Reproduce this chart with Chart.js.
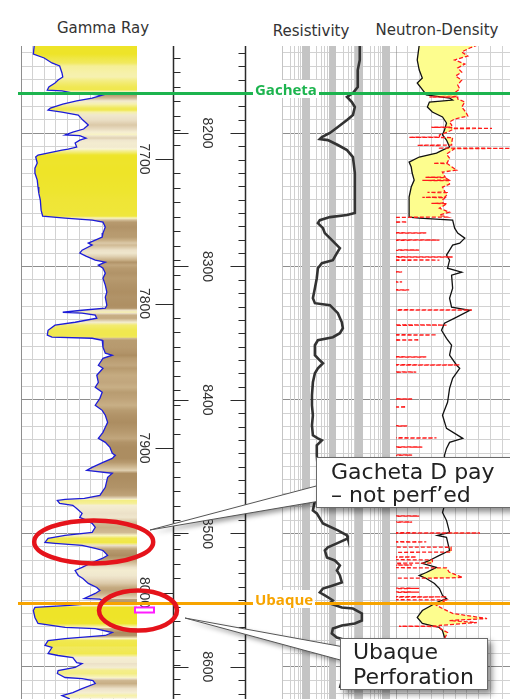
<!DOCTYPE html>
<html>
<head>
<meta charset="utf-8">
<script src="https://cdn.jsdelivr.net/npm/chart.js@4.4.1/dist/chart.umd.min.js"></script>
<style>
  html, body { margin: 0; padding: 0; background: #fff; overflow: hidden; }
  body { width: 510px; height: 699px; position: relative; font-family: "DejaVu Sans", sans-serif; }
  canvas.track { position: absolute; top: 46px; }
  .title { position: absolute; font-size: 15px; line-height: 18px; color: #333; white-space: nowrap; transform: translateX(-50%); }
  #overlay { position: absolute; left: 0; top: 0; z-index: 5; }
  .top-label { position: absolute; z-index: 6; background: #fff; font: bold 15px "Open Sans", sans-serif; line-height: 18px; padding: 0 2px; white-space: nowrap; }
  .callout { position: absolute; z-index: 7; background: #fff; border: 1px solid #6a6a6a; box-shadow: 4px 4px 6px rgba(0,0,0,0.45);
             font-size: 22px; color: #222; white-space: nowrap; box-sizing: border-box; }
</style>
</head>
<body>
<div class="title" style="left:103px;top:19px">Gamma Ray</div>
<div class="title" style="left:311px;top:22px">Resistivity</div>
<div class="title" style="left:437px;top:21px">Neutron-Density</div>

<canvas id="grChart" class="track" width="116" height="653" style="left:21px"></canvas>
<canvas id="depthChart" class="track" width="145" height="653" style="left:137px"></canvas>
<canvas id="resChart" class="track" width="115" height="653" style="left:282px"></canvas>
<canvas id="ndChart" class="track" width="118" height="653" style="left:396px"></canvas>
<canvas id="overlay" width="510" height="699"></canvas>

<div class="callout" style="left:316px;top:457px;width:210px;height:51px;padding:2px 0 0 14px;line-height:23px">Gacheta D pay<br>&#8211; not perf&#8217;ed</div>
<div class="callout" style="left:340px;top:638px;width:148px;height:52px;padding:0 0 0 12px;line-height:25px">Ubaque<br>Perforation</div>

<script>
// depth window of the picture (ft), and the second (left) depth ruler
const DEPTH_TOP = 8134.8, DEPTH_BOT = 8624.1;
const MD_TOP = 7621.8, MD_BOT = 8073.7;

const depthLabels = [8200, 8300, 8400, 8500, 8600];
const mdLabels = [7700, 7800, 7900, 8000];

const tops = ['Gacheta', 'Ubaque'];
const topDepth = [8170, 8552];
const topColor = ['#1cb44e', '#f7a400'];

// Gamma ray (API)
const grDepth = [8134.8, 8140.8, 8143.8, 8147.5, 8149.8, 8155, 8158, 8160.3, 8162.5, 8165.5,
  8167.8, 8168.5, 8170, 8171.5, 8173.8, 8176, 8178.3, 8181.3, 8182.8, 8184.3,
  8186.5, 8190.3, 8194, 8197, 8199.3, 8201.5, 8202, 8203.8, 8205.3, 8207.5,
  8210.5, 8212, 8212.8, 8216.5, 8218, 8222.5, 8226.3, 8230, 8235.3, 8240.5,
  8245, 8250.3, 8257.8, 8262.3, 8263.8, 8265.3, 8266.8, 8270.5, 8275, 8278,
  8280.3, 8282.5, 8284, 8287.8, 8290, 8292.3, 8295.3, 8296.8, 8299, 8301.3,
  8305, 8308.8, 8314, 8319.3, 8323, 8329, 8331.3, 8332.8, 8334.3, 8335,
  8336.5, 8338.8, 8341.8, 8344, 8347.8, 8351.5, 8353, 8353.8, 8355.3, 8360.5,
  8365, 8366.5, 8368.8, 8374, 8376.3, 8381.5, 8386.8, 8390.5, 8394.3, 8398.8,
  8404, 8407.8, 8411.5, 8416.8, 8420.5, 8424.3, 8428.8, 8431.8, 8435.5, 8440,
  8441.5, 8443.8, 8446.8, 8450.5, 8452.8, 8455, 8458, 8465.5, 8471.5, 8473.8,
  8474.5, 8475.3, 8477.5, 8479, 8481.3, 8485, 8488, 8490.3, 8492.5, 8495.5,
  8499.3, 8501.5, 8503.8, 8506.8, 8507.5, 8509, 8511.3, 8512.8, 8516.5, 8518.8,
  8521.8, 8525.5, 8527.8, 8531.5, 8533.8, 8537.5, 8540.5, 8542.8, 8545, 8548.8,
  8549.3, 8551.8, 8554, 8555.5, 8557.8, 8563, 8567.5, 8570.5, 8571.3, 8574.3,
  8576.5, 8578.8, 8580.3, 8584, 8585.5, 8590, 8591.5, 8593, 8596.8, 8597.5,
  8600.5, 8602.8, 8605, 8608, 8608.8, 8610.3, 8612.5, 8616.3, 8619.3, 8621.5, 8624];
const grValue = [17, 16, 30, 40, 50, 53, 54, 48, 44, 36,
  34, 53, 66, 106, 92, 72, 54, 38, 35, 53,
  74, 80, 87, 81, 67, 57, 76, 84, 76, 70,
  72, 61, 53, 22, 19, 21, 18, 18, 21, 22,
  23, 25, 26, 28, 57, 92, 106, 109, 106, 105,
  96, 87, 92, 79, 76, 84, 96, 109, 100, 106,
  109, 106, 109, 111, 109, 111, 109, 79, 54, 79,
  96, 98, 70, 44, 35, 34, 40, 92, 105, 106,
  109, 118, 106, 100, 106, 98, 100, 96, 105, 102,
  96, 105, 109, 112, 109, 106, 100, 109, 115, 118,
  122, 118, 106, 92, 85, 118, 112, 109, 102, 82,
  57, 47, 50, 67, 72, 79, 76, 85, 92, 96,
  92, 57, 35, 31, 44, 79, 96, 106, 112, 105,
  92, 79, 70, 74, 80, 87, 98, 102, 96, 82,
  102, 109, 63, 18, 16, 18, 22, 57, 96, 118,
  109, 57, 35, 31, 40, 35, 48, 67, 72, 79,
  70, 48, 47, 57, 79, 93, 96, 79, 67, 53, 63];

// Resistivity (ohm.m)
const resDepth = [8134, 8145.3, 8152.8, 8165.5, 8170, 8173, 8176.8, 8180.5, 8186.5, 8190.3,
  8195.5, 8200, 8203, 8204.5, 8205.3, 8209, 8212.8, 8218, 8230, 8248,
  8260, 8261.5, 8263, 8265.3, 8267.5, 8271.3, 8275, 8278.8, 8282.5, 8286.3,
  8290, 8295.3, 8297.5, 8301.3, 8308.8, 8316.3, 8323.8, 8327.5, 8329, 8335,
  8341.8, 8346.3, 8350, 8353, 8355.3, 8359, 8366.5, 8370.3, 8372.5, 8376.3,
  8380, 8386.8, 8396.5, 8404, 8411.5, 8419, 8426.5, 8428.8, 8430.3, 8434,
  8441.5, 8452.8, 8467.8, 8475.3, 8482.8, 8485, 8492.5, 8497.8, 8501.5, 8503.8,
  8507.5, 8510.5, 8512.8, 8518, 8520.3, 8524, 8527.8, 8531.5, 8536.8, 8539,
  8541.3, 8544.3, 8546.5, 8548.8, 8550.3, 8552.5, 8555.5, 8556.3, 8560, 8565.3,
  8567.5, 8569, 8571.3, 8575, 8578, 8580.3, 8587.8, 8602.8, 8616];
const resValue = [81, 81, 68, 68, 45, 27, 41, 53, 45, 27,
  12.3, 6.2, 3.1, 2.6, 5.2, 12.3, 27, 45, 53, 53,
  53, 27, 6.2, 2.6, 2.2, 3.4, 4.0, 6.2, 9.5, 14.6,
  11.3, 8.0, 3.1, 2.2, 2.0, 1.7, 1.43, 1.7, 6.2, 12.3,
  17.3, 18.9, 14.6, 8.0, 2.2, 1.7, 1.7, 2.6, 3.4, 2.2,
  1.7, 1.43, 1.32, 1.32, 1.43, 1.32, 1.43, 2.2, 3.1, 2.0,
  2.0, 2.2, 3.1, 1.7, 1.43, 2.0, 3.4, 12.3, 27, 29,
  11.3, 5.2, 4.0, 4.8, 9.5, 14.6, 11.3, 14.6, 17.3, 8.0,
  3.4, 2.6, 4.0, 6.2, 8.0, 6.2, 17.3, 45, 97, 97,
  53, 17.3, 8.0, 7.3, 11.3, 27, 34, 22, 14.6];

// Bulk density (g/cc)
const rhobDepth = [8134, 8145.3, 8152.8, 8158.8, 8162.5, 8166.3, 8169.3, 8171.5, 8173.8, 8175.3,
  8176.8, 8180.5, 8184.3, 8188, 8192.5, 8197.8, 8201.5, 8205.3, 8210.5, 8212.8,
  8215, 8218, 8221.8, 8225.5, 8230, 8235.3, 8240.5, 8248, 8255.5, 8263,
  8263.8, 8265.3, 8271.3, 8275, 8278.8, 8282.5, 8284, 8287.8, 8291.5, 8295.3,
  8301.3, 8304.3, 8306.5, 8316.3, 8323.8, 8330.5, 8332.8, 8338, 8342.5, 8347.8,
  8353.8, 8359, 8366.5, 8374, 8376.3, 8383.8, 8391.3, 8401.8, 8411.5, 8421.3,
  8428.8, 8431.8, 8436.3, 8441.5, 8452.8, 8467.8, 8479, 8484.3, 8490.3, 8499.3,
  8501.5, 8503, 8512.8, 8516.5, 8520.3, 8522.5, 8525.5, 8529.3, 8531.5, 8533.8,
  8537.5, 8541.3, 8546.5, 8548.8, 8551.8, 8554, 8557.8, 8563, 8567.5, 8570.5,
  8572.8, 8578, 8595.3, 8616.3];
const rhobValue = [2.147, 2.13, 2.147, 2.173, 2.13, 2.164, 2.19, 2.207, 2.404, 2.43,
  2.233, 2.216, 2.258, 2.344, 2.378, 2.361, 2.344, 2.378, 2.404, 2.344,
  2.293, 2.147, 2.061, 2.079, 2.087, 2.104, 2.079, 2.061, 2.061, 2.061,
  2.147, 2.43, 2.447, 2.473, 2.533, 2.49, 2.43, 2.404, 2.378, 2.404,
  2.387, 2.507, 2.421, 2.43, 2.404, 2.421, 2.576, 2.464, 2.361, 2.336,
  2.378, 2.421, 2.404, 2.464, 2.49, 2.43, 2.404, 2.387, 2.344, 2.378,
  2.516, 2.404, 2.378, 2.361, 2.361, 2.387, 2.361, 2.344, 2.378, 2.404,
  2.301, 2.378, 2.404, 2.318, 2.233, 2.173, 2.293, 2.207, 2.147, 2.207,
  2.276, 2.318, 2.344, 2.378, 2.293, 2.25, 2.173, 2.13, 2.173, 2.318,
  2.344, 2.361, 2.378, 2.361];

// Neutron porosity (v/v); in the shales it sits off-scale at the left edge with short excursions
const nphiDepth = [8134, 8136.3, 8139.3, 8142.3, 8145.3, 8148.3, 8151.3, 8154.3, 8157.3, 8160.3,
  8164, 8167, 8169.3, 8170.8, 8171, 8171.2, 8172.8, 8173, 8173.2, 8174.5,
  8176.8, 8180.5, 8184.3, 8187.3, 8189.5, 8191.8, 8194, 8195.5, 8195.7, 8195.9,
  8196.3, 8196.5, 8196.7, 8199.3, 8201.5, 8203, 8203.2, 8203.4, 8207.5, 8209,
  8209.2, 8209.4, 8211.3, 8211.5, 8211.7, 8215.8, 8218.8, 8222.5, 8222.7, 8222.9,
  8227.8, 8229.3, 8233, 8233.2, 8233.4, 8235.3, 8235.5, 8235.7, 8238.3, 8240.5,
  8244.3, 8244.5, 8244.7, 8246.5, 8248, 8248.2, 8248.4, 8250.3, 8252.5, 8252.7,
  8252.9, 8256.3, 8259.3, 8261.5, 8263, 8263.2,
  8266.5, 8266.7, 8266.9, 8274.7, 8274.9, 8275.1, 8280, 8280.2, 8280.4,
  8287.5, 8287.7, 8287.9, 8292.7, 8292.9, 8293.1, 8295, 8295.2, 8295.4,
  8303.9, 8304.1, 8304.3, 8311.4, 8311.6, 8311.8, 8317.4, 8317.6, 8317.8,
  8332.4, 8332.6, 8332.8, 8343.7, 8343.9, 8344.1, 8351.1, 8351.3, 8351.5,
  8354.9, 8355.1, 8355.3, 8367.6, 8367.8, 8368, 8373.6, 8373.8, 8374,
  8378.9, 8379.1, 8379.3, 8399.1, 8399.3, 8399.5, 8405.1, 8405.3, 8405.5,
  8419.3, 8419.5, 8419.7, 8428.3, 8428.5, 8428.7, 8435.1, 8435.3, 8435.5,
  8441.1, 8441.3, 8441.5, 8452.3, 8452.5, 8452.7, 8467.3, 8467.5, 8467.7,
  8486.8, 8487, 8487.2, 8491.3, 8491.5, 8491.7, 8499.5, 8499.7, 8499.9,
  8506.2, 8506.4, 8506.6, 8510.2, 8510.4, 8514, 8514.2,
  8517.5, 8517.7, 8517.9, 8519.7, 8519.9, 8522.2, 8522.4,
  8523.5, 8523.7, 8523.9, 8525.7, 8525.9, 8529, 8533, 8533.4, 8533.6,
  8541, 8541.2, 8541.4, 8543.8, 8544, 8544.2, 8547.4, 8547.6, 8547.8,
  8549.7, 8549.9, 8554, 8556.3, 8560, 8563.8, 8565.3, 8566.8, 8569, 8569.4,
  8569.6, 8569.8, 8574.3, 8578.8, 8595.3, 8616.3];
const nphiValue = [0.034, 0.075, 0.116, 0.085, 0.152, 0.100, 0.136, 0.116, 0.147, 0.116,
  0.136, 0.126, 0.147, 0.15, 0.321, 0.14, 0.14, 0.28, 0.136, 0.136,
  0.100, 0.116, 0.095, 0.085, 0.152, 0.178, 0.167, 0.167, 0.270, 0.167,
  0.167, -0.038, 0.152, 0.188, 0.229, 0.229, 0.383, 0.162, 0.167, 0.167,
  0.342, 0.229, 0.229, -0.131, 0.152, 0.193, 0.178, 0.19, 0.26, 0.19,
  0.142, 0.214, 0.2, 0.3, 0.2, 0.18, 0.316, 0.18, 0.178, 0.214,
  0.2, 0.29, 0.19, 0.193, 0.2, 0.316, 0.2, 0.214, 0.21, 0.27,
  0.19, 0.229, 0.178, 0.229, 0.19, 0.46,
  0.46, 0.394, 0.46, 0.46, 0.296, 0.46, 0.46, 0.229, 0.46,
  0.46, 0.332, 0.46, 0.46, 0.162, 0.46, 0.46, 0.229, 0.46,
  0.46, 0.419, 0.46, 0.46, 0.419, 0.46, 0.46, 0.383, 0.46,
  0.46, 0.064, 0.46, 0.46, 0.193, 0.46, 0.46, 0.244, 0.46,
  0.46, 0.332, 0.46, 0.46, 0.296, 0.46, 0.46, 0.126, 0.46,
  0.46, 0.347, 0.46, 0.46, 0.368, 0.46, 0.46, 0.399, 0.46,
  0.46, 0.393, 0.46, 0.46, 0.244, 0.46, 0.46, 0.316, 0.46,
  0.46, 0.368, 0.46, 0.46, 0.383, 0.46, 0.46, 0.332, 0.46,
  0.46, 0.332, 0.46, 0.46, 0.368, 0.46, 0.46, 0.023, 0.46,
  0.46, 0.296, 0.46, 0.46, 0.17, 0.17, 0.46,
  0.46, 0.347, 0.46, 0.46, 0.265, 0.265, 0.46,
  0.46, 0.368, 0.46, 0.46, 0.193, 0.18, 0.111, 0.193, 0.46,
  0.46, 0.332, 0.46, 0.46, 0.332, 0.46, 0.46, 0.193, 0.46,
  0.46, 0.193, 0.244, 0.214, 0.162, -0.013, 0.178, 0.039, 0.229, 0.23,
  0.435, 0.244, 0.188, 0.203, 0.193, 0.203];

// ---- helpers ----
const MINOR = '#d2d2d2', MAJOR = '#8e8e8e';

function pts(depths, values) {
  const n = Math.min(depths.length, values.length);
  const out = [];
  for (let i = 0; i < n; i++) out.push({ x: values[i], y: depths[i] });
  return out;
}

function interp(xs, ys, x) {
  if (x <= xs[0]) return ys[0];
  for (let i = 1; i < xs.length; i++) {
    if (x <= xs[i]) {
      const t = (x - xs[i - 1]) / (xs[i] - xs[i - 1]);
      return ys[i - 1] + t * (ys[i] - ys[i - 1]);
    }
  }
  return ys[ys.length - 1];
}

// lithology shading from gamma ray: sand yellow -> shale brown
const lithoStops = [[20, [238, 228, 40]], [42, [241, 234, 100]], [60, [249, 245, 214]],
  [78, [238, 228, 204]], [95, [202, 177, 136]], [112, [172, 141, 97]]];
function lithoColor(g) {
  if (g <= lithoStops[0][0]) return 'rgb(' + lithoStops[0][1].join(',') + ')';
  for (let i = 1; i < lithoStops.length; i++) {
    const [g1, c1] = lithoStops[i];
    if (g <= g1) {
      const [g0, c0] = lithoStops[i - 1];
      const t = (g - g0) / (g1 - g0);
      return 'rgb(' + c0.map((c, k) => Math.round(c + t * (c1[k] - c))).join(',') + ')';
    }
  }
  return 'rgb(' + lithoStops[lithoStops.length - 1][1].join(',') + ')';
}

function depthAxis() {
  return {
    type: 'linear', min: DEPTH_TOP, max: DEPTH_BOT, reverse: true,
    ticks: { display: false, stepSize: 10, includeBounds: false },
    grid: { drawTicks: false, color: c => Math.round(c.tick.value) % 100 === 0 ? MAJOR : MINOR },
    border: { display: false }
  };
}

function trackOptions(xScales) {
  return {
    responsive: false,
    animation: false,
    indexAxis: 'y',
    layout: { padding: 0, autoPadding: false },
    plugins: { legend: { display: false }, tooltip: { enabled: false } },
    elements: { point: { radius: 0 }, line: { tension: 0 } },
    scales: Object.assign({ y: depthAxis() }, xScales)
  };
}

Chart.defaults.font.family = '"DejaVu Sans", sans-serif';

// ---- Gamma Ray track ----
const grChart = new Chart(document.getElementById('grChart'), {
  type: 'line',
  data: {
    datasets: [{
      data: pts(grDepth, grValue),
      borderColor: '#1c1cd8',
      borderWidth: 1.3,
      backgroundColor: lithoColor(60),
      fill: { value: 150 }
    }]
  },
  options: trackOptions({
    x: {
      type: 'linear', min: 0, max: 150,
      ticks: { display: false, stepSize: 15 },
      grid: { drawTicks: false, color: c => c.index === 0 ? '#8e8e8e' : MINOR },
      border: { display: false }
    }
  })
});

// lithology fill: vertical gradient following the gamma ray, placed through the depth scale
(function () {
  const ys = grChart.scales.y, area = grChart.chartArea;
  const g = grChart.ctx.createLinearGradient(0, area.top, 0, area.bottom);
  const h = area.bottom - area.top;
  grDepth.forEach((d, i) => {
    const t = Math.min(1, Math.max(0, (ys.getPixelForValue(d) - area.top) / h));
    g.addColorStop(t, lithoColor(grValue[i]));
  });
  grChart.data.datasets[0].backgroundColor = g;
  grChart.update();
})();

// ---- depth rulers ----
const rulerPlugin = {
  id: 'rulers',
  afterDraw(chart) {
    const { ctx } = chart;
    const y = chart.scales.y, md = chart.scales.md;
    const xl = 36.5, xr = 108.5;
    ctx.save();
    ctx.strokeStyle = '#2a2a2a';
    ctx.lineWidth = 1.5;
    ctx.beginPath();
    ctx.moveTo(xl, 0); ctx.lineTo(xl, chart.height);
    ctx.moveTo(xr, 0); ctx.lineTo(xr, chart.height);
    ctx.stroke();
    ctx.lineWidth = 1.2;
    ctx.beginPath();
    for (let d = Math.ceil(DEPTH_TOP / 10) * 10; d <= DEPTH_BOT; d += 10) {
      const p = Math.round(y.getPixelForValue(d)) + 0.5;
      if (d % 100 === 0) {
        ctx.moveTo(xr - 15, p); ctx.lineTo(xr, p);
        ctx.moveTo(xl, p); ctx.lineTo(xl + 15, p);
      } else {
        ctx.moveTo(xr - 7, p); ctx.lineTo(xr, p);
      }
    }
    for (let d = Math.ceil(MD_TOP / 10) * 10; d <= MD_BOT; d += 10) {
      const p = Math.round(md.getPixelForValue(d)) + 0.5;
      if (d % 100 === 0) { ctx.moveTo(xl - 18, p); ctx.lineTo(xl, p); }
      else { ctx.moveTo(xl, p); ctx.lineTo(xl + 7, p); }
    }
    ctx.stroke();

    ctx.fillStyle = '#333';
    ctx.font = '14px "Liberation Sans", Arial, sans-serif';
    ctx.textAlign = 'center';
    ctx.textBaseline = 'middle';
    const label = (v, x, p) => {
      ctx.save(); ctx.translate(x, p); ctx.rotate(Math.PI / 2); ctx.fillText(String(v), 0, 0); ctx.restore();
    };
    depthLabels.forEach(v => label(v, 70, y.getPixelForValue(v)));
    mdLabels.forEach(v => label(v, 6.5, md.getPixelForValue(v)));
    ctx.restore();
  }
};

const depthOpts = trackOptions({
  x: { type: 'linear', min: 0, max: 1, display: false },
  md: { type: 'linear', axis: 'y', min: MD_TOP, max: MD_BOT, reverse: true, display: false }
});
depthOpts.scales.y.display = false;
const depthChart = new Chart(document.getElementById('depthChart'), {
  type: 'line',
  data: { datasets: [] },
  options: depthOpts,
  plugins: [rulerPlugin]
});

// ---- Resistivity track (log grid) ----
const resGrid = [];
[0.1, 1, 10, 100, 1000].forEach(dec => { for (let m = 1; m <= 9; m++) if (m * dec <= 2000) resGrid.push(m * dec); });
const mantissa = v => v / Math.pow(10, Math.floor(Math.log10(v) + 1e-9));

const resChart = new Chart(document.getElementById('resChart'), {
  type: 'line',
  data: {
    datasets: [{ data: pts(resDepth, resValue), borderColor: '#333', borderWidth: 2.6, fill: false }]
  },
  options: trackOptions({
    x: {
      type: 'logarithmic', min: 0.1, max: 2000,
      afterBuildTicks: s => { s.ticks = resGrid.map(v => ({ value: v })); },
      ticks: { display: false },
      grid: {
        drawTicks: false,
        color: c => { const m = mantissa(c.tick.value); return (m > 5.5 || m < 1.01) ? '#c4c4c4' : '#d0d0d0'; },
        lineWidth: c => { const m = mantissa(c.tick.value); return (m > 5.5 || (m < 1.01 && c.index > 0)) ? 2 : 1; }
      },
      border: { display: false }
    }
  })
});

// ---- Neutron-Density track ----
const ndDepth = [...new Set([...rhobDepth, ...nphiDepth])].sort((a, b) => a - b);
const rhoOnNd = ndDepth.map(d => interp(rhobDepth, rhobValue, d));
// neutron expressed on the density scale (0.45..-0.15 over 1.95..2.95)
const nphiOnRho = ndDepth.map(d => 1.95 + (0.45 - interp(nphiDepth, nphiValue, d)) / 0.6);
const crossEdge = rhoOnNd.map((r, i) => Math.max(r, nphiOnRho[i]));

const ndChart = new Chart(document.getElementById('ndChart'), {
  type: 'line',
  data: {
    datasets: [
      { data: pts(nphiDepth, nphiValue), xAxisID: 'xn', borderColor: '#ff1a1a', borderWidth: 1.3, borderDash: [4, 2], fill: false },
      { data: pts(rhobDepth, rhobValue), xAxisID: 'x', borderColor: '#111', borderWidth: 1.3, fill: false },
      { data: pts(ndDepth, crossEdge), xAxisID: 'x', borderColor: 'rgba(0,0,0,0)', borderWidth: 0, backgroundColor: '#fdfd8e', fill: '+1' },
      { data: pts(ndDepth, rhoOnNd), xAxisID: 'x', borderColor: 'rgba(0,0,0,0)', borderWidth: 0, fill: false }
    ]
  },
  options: trackOptions({
    x: {
      type: 'linear', min: 1.95, max: 2.95,
      ticks: { display: false, stepSize: 0.1 },
      grid: { drawTicks: false, color: c => c.index === 0 ? '#7a7a7a' : MINOR, lineWidth: c => c.index === 0 ? 1.5 : 1 },
      border: { display: false }
    },
    xn: { type: 'linear', axis: 'x', min: -0.15, max: 0.45, reverse: true, display: false }
  })
});

// ---- overlay: formation tops, highlights, callout pointers ----
const ov = document.getElementById('overlay').getContext('2d');
const pageY = d => 46 + grChart.scales.y.getPixelForValue(d);
const pageGrX = v => 21 + grChart.scales.x.getPixelForValue(v);

tops.forEach((name, i) => {
  const y = Math.round(pageY(topDepth[i])) + 0.5;
  ov.strokeStyle = topColor[i];
  ov.lineWidth = 3;
  ov.beginPath(); ov.moveTo(18, y); ov.lineTo(510, y); ov.stroke();
  const lab = document.createElement('div');
  lab.className = 'top-label';
  lab.textContent = name;
  lab.style.color = topColor[i];
  lab.style.left = '253px';
  lab.style.top = (y - 14) + 'px';
  document.body.appendChild(lab);
});

// callout pointers (behind the boxes)
const pointers = [[[150, 530], [320, 485], [320, 501]], [[185, 618], [344, 647], [344, 661]]];
ov.save();
ov.shadowColor = 'rgba(0,0,0,0.4)';
ov.shadowBlur = 5; ov.shadowOffsetX = 3; ov.shadowOffsetY = 3;
ov.fillStyle = '#fff';
pointers.forEach(w => {
  ov.beginPath(); ov.moveTo(w[1][0], w[1][1]); ov.lineTo(w[0][0], w[0][1]); ov.lineTo(w[2][0], w[2][1]); ov.closePath();
  ov.fill();
});
ov.restore();
ov.strokeStyle = '#555'; ov.lineWidth = 1;
pointers.forEach(w => {
  ov.beginPath(); ov.moveTo(w[1][0], w[1][1]); ov.lineTo(w[0][0], w[0][1]); ov.lineTo(w[2][0], w[2][1]); ov.stroke();
});

// perforation marker
const perfTop = pageY(8555.5), perfBot = pageY(8559.3);
ov.fillStyle = '#fff'; ov.strokeStyle = '#ff1cff'; ov.lineWidth = 2;
ov.fillRect(135, perfTop, 19, perfBot - perfTop);
ov.strokeRect(135, perfTop, 19, perfBot - perfTop);

// red highlight ellipses
ov.strokeStyle = '#e5131b'; ov.lineWidth = 4.5;
ov.beginPath(); ov.ellipse(pageGrX(94), pageY(8506.4), 59.5, 21.5, 0, 0, Math.PI * 2); ov.stroke();
ov.beginPath(); ov.ellipse(138, pageY(8557.8), 39, 20, 0, 0, Math.PI * 2); ov.stroke();
</script>
</body>
</html>
